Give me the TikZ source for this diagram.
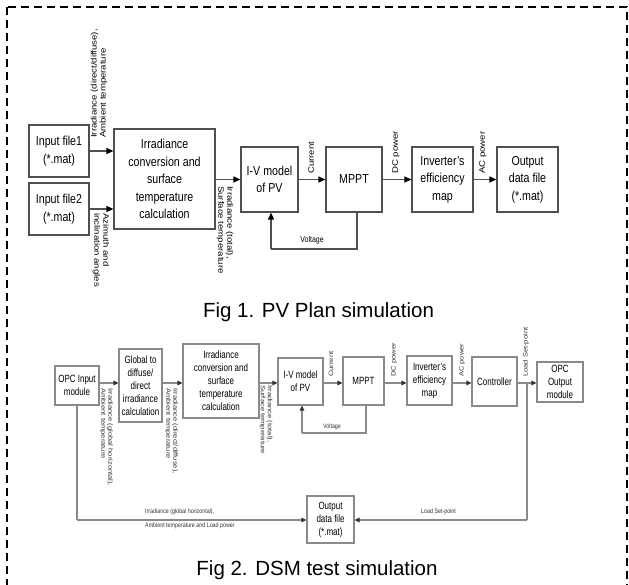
\documentclass[tikz,border=0pt]{standalone}
\usepackage{fontspec}
\setmainfont{Liberation Sans}
\newfontfamily\condf[FakeStretch=0.82]{Liberation Sans}
\newfontfamily\condg[FakeStretch=0.76]{Liberation Sans}
\newfontfamily\longf[FakeStretch=1.2]{Liberation Sans}
\usetikzlibrary{arrows.meta,calc}
\definecolor{cA}{HTML}{505050}
\definecolor{cB}{HTML}{8A8A8A}
\definecolor{cT}{HTML}{333333}
\begin{document}
\begin{tikzpicture}[x=1pt,y=-1pt,
  border/.style={draw=black,line width=1.8pt,dash pattern=on 8pt off 5pt},
  boxa/.style={draw=cA,line width=1.2pt,fill=white,align=center,inner sep=1pt,
    font=\condf\fontsize{13}{17.5}\selectfont,text=black},
  boxb/.style={draw=cB,line width=1.1pt,fill=white,align=center,inner sep=1pt,
    font=\condg\fontsize{10.5}{13}\selectfont,text=black},
  laba/.style={inner sep=0pt,align=left,font=\longf\fontsize{8}{9}\selectfont,text=black},
  labb/.style={inner sep=0pt,align=left,font=\longf\fontsize{6.3}{7}\selectfont,text=cT},
  hlaba/.style={inner sep=0pt,font=\condf\fontsize{8.5}{10}\selectfont,text=black},
  hlabb/.style={inner sep=0pt,align=left,font=\condf\fontsize{6.5}{14}\selectfont,text=cT},
  capt/.style={inner sep=0pt,anchor=base,font=\fontsize{20.5}{24}\selectfont,text=black},
  arra/.style={draw=cA,line width=1.2pt,-{Triangle[length=7pt,width=6pt,color=black]}},
  lina/.style={draw=cA,line width=1.2pt},
  arrb/.style={draw=cB,line width=1.1pt,-{Triangle[length=5pt,width=4.5pt,color=black!80]}},
  linb/.style={draw=cB,line width=1.1pt}
]
\useasboundingbox (0,0) rectangle (629,585);
\begin{scope}
  \clip (0,0) rectangle (629,585);
  \draw[border] (7,7) rectangle (627,620);
\end{scope}

% ---------------- Fig 1 ----------------
\node[boxa,minimum width=60pt,minimum height=52pt] (in1) at (59,151) {Input file1\\(*.mat)};
\node[boxa,minimum width=60pt,minimum height=52pt] (in2) at (59,209) {Input file2\\(*.mat)};
\node[boxa,minimum width=101pt,minimum height=100pt] (irr) at (164.5,179) {Irradiance\\conversion and\\surface\\temperature\\calculation};
\node[boxa,minimum width=57pt,minimum height=65pt] (iv) at (269.5,179.5) {I-V model\\of PV};
\node[boxa,minimum width=56pt,minimum height=65pt] (mppt) at (354,179.5) {MPPT};
\node[boxa,minimum width=61pt,minimum height=65pt] (inv) at (442.5,179.5) {Inverter’s\\efficiency\\map};
\node[boxa,minimum width=61pt,minimum height=65pt] (out) at (527.5,179.5) {Output\\data file\\(*.mat)};

\draw[arra] (in1.east) -- (in1.east -| irr.west);
\draw[arra] (in2.east) -- (in2.east -| irr.west);
\draw[arra] (irr.east |- iv.west) -- (iv.west);
\draw[arra] (iv.east) -- (mppt.west);
\draw[arra] (mppt.east) -- (inv.west);
\draw[arra] (inv.east) -- (out.west);
\coordinate (fbA) at (357,249);
\coordinate (fbB) at (271,249);
\draw[lina] (mppt.south -| fbA) -- (fbA) -- (fbB);
\draw[arra] (fbB) -- (iv.south -| fbB);

\node[laba,rotate=90,anchor=west] (l1) at (99,138) {Irradiance (direct/diffuse),\\Ambient temperature};
\node[laba,rotate=-90,anchor=west] (l2) at (101,213) {Azimuth and\\inclination angles};
\node[laba,rotate=-90,anchor=west] (l3) at (225,186) {Irradiance (total),\\Surface temperature};
\node[laba,rotate=90,anchor=west] (l4) at (311,174) {Current};
\node[laba,rotate=90,anchor=west] (l5) at (396,174) {DC power};
\node[laba,rotate=90,anchor=west] (l6) at (483,174) {AC power};
\node[hlaba] (l7) at (312,240) {Voltage};

\node[capt] (cap1) at (318.5,317) {Fig 1. PV Plan simulation};

% ---------------- Fig 2 ----------------
\coordinate (ya) at (0,383);
\node[boxb,minimum width=44pt,minimum height=39pt] (opcin) at (77,385.5) {OPC Input\\module};
\node[boxb,minimum width=43pt,minimum height=73pt] (glob) at (140.5,385.5) {Global to\\diffuse/\\direct\\irradiance\\calculation};
\node[boxb,minimum width=76pt,minimum height=74pt] (irr2) at (221,381) {Irradiance\\conversion and\\surface\\temperature\\calculation};
\node[boxb,minimum width=45pt,minimum height=47pt] (iv2) at (300.5,381.5) {I-V model\\of PV};
\node[boxb,minimum width=41pt,minimum height=48pt] (mppt2) at (363.5,381) {MPPT};
\node[boxb,minimum width=45pt,minimum height=49pt] (inv2) at (429.5,380.5) {Inverter’s\\efficiency\\map};
\node[boxb,minimum width=45pt,minimum height=49pt] (ctrl) at (494.5,381.5) {Controller};
\node[boxb,minimum width=46pt,minimum height=40pt] (opcout) at (560,382) {OPC\\Output\\module};
\node[boxb,minimum width=47pt,minimum height=47pt] (ofile) at (330.5,519.5) {Output\\data file\\(*.mat)};

\draw[arrb] (opcin.east |- ya) -- (glob.west |- ya);
\draw[arrb] (glob.east |- ya) -- (irr2.west |- ya);
\draw[arrb] (irr2.east |- ya) -- (iv2.west |- ya);
\draw[arrb] (iv2.east |- ya) -- (mppt2.west |- ya);
\draw[arrb] (mppt2.east |- ya) -- (inv2.west |- ya);
\draw[arrb] (inv2.east |- ya) -- (ctrl.west |- ya);
\draw[arrb] (ctrl.east |- ya) -- (opcout.west |- ya);

\coordinate (fb2A) at (366,433);
\coordinate (fb2B) at (302,433);
\draw[linb] (mppt2.south -| fb2A) -- (fb2A) -- (fb2B);
\draw[arrb] (fb2B) -- (iv2.south -| fb2B);

\coordinate (brR) at (527,383);
\coordinate (cornR) at (527,520);
\coordinate (cornL) at (77,520);
\draw[linb] (brR) -- (cornR);
\draw[arrb] (cornR) -- (ofile.east |- cornR);
\draw[linb] (opcin.south) -- (cornL);
\draw[arrb] (cornL) -- (ofile.west |- cornL);

\node[labb,rotate=-90,anchor=west] (m1) at (106.5,388) {Irradiance (global horizontal),\\Ambient temperature};
\node[labb,rotate=-90,anchor=west] (m2) at (171.5,388) {Irradiance (direct/diffuse),\\Ambient temperature};
\node[labb,rotate=-90,anchor=west] (m3) at (266,385) {Irradiance (total),\\Surface temperature};
\node[labb,rotate=90,anchor=west] (m4) at (331,377) {Current};
\node[labb,rotate=90,anchor=west] (m5) at (394,377) {DC power};
\node[labb,rotate=90,anchor=west] (m6) at (462,377) {AC power};
\node[labb,rotate=90,anchor=west] (m7) at (526,377) {Load Set-point};
\node[hlabb] (m8) at (332,427) {Voltage};
\node[hlabb,anchor=west] (m9) at (145,519) {Irradiance (global horizontal),\\Ambient temperature and Load power};
\node[hlabb,anchor=west] (m10) at (421,512) {Load Set-point};

\node[capt] (cap2) at (317,575) {Fig 2. DSM test simulation};
\end{tikzpicture}
\end{document}
